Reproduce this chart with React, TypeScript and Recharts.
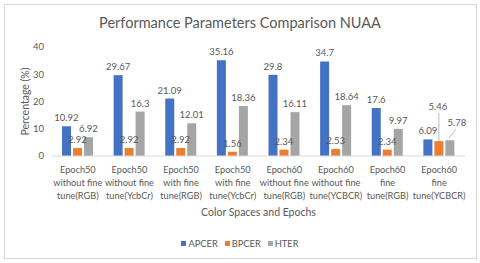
import { BarChart, Bar, XAxis, YAxis, Legend, LabelList } from "recharts"

const categories = [
  "Epoch50\nwithout fine\ntune(RGB)",
  "Epoch50\nwithout fine\ntune(YcbCr)",
  "Epoch50\nwith fine\ntune(RGB)",
  "Epoch50\nwith fine\ntune(YcbCr)",
  "Epoch60\nwithout fine\ntune(RGB)",
  "Epoch60\nwithout fine\ntune(YCBCR)",
  "Epoch60\nfine\ntune(RGB)",
  "Epoch60\nfine\ntune(YCBCR)",
]
const apcer = [10.92, 29.67, 21.09, 35.16, 29.8, 34.7, 17.6, 6.09]
const bpcer = [2.92, 2.92, 2.92, 1.56, 2.34, 2.53, 2.34, 5.46]
const hter = [6.92, 16.3, 12.01, 18.36, 16.11, 18.64, 9.97, 5.78]
const yTicks = [0, 5, 10, 15, 20, 25, 30, 35, 40]

const SERIES = [
  { key: "APCER", color: "#4472C4" },
  { key: "BPCER", color: "#ED7D31" },
  { key: "HTER", color: "#A5A5A5" },
]

const TEXT = "#595959"
const FONT = "Lato, 'Open Sans', sans-serif"

const data = categories.map((name, i) => ({
  name,
  APCER: apcer[i],
  BPCER: bpcer[i],
  HTER: hter[i],
}))

function CategoryTick({ x, y, payload }: any) {
  const lines = String(payload.value).split("\n")
  return (
    <text x={x} y={y} textAnchor="middle" fill={TEXT} fontSize={9.2} fontFamily={FONT}>
      {lines.map((l, i) => (
        <tspan key={i} x={x} dy={i === 0 ? 9 : 13}>
          {l}
        </tspan>
      ))}
    </text>
  )
}

// last category labels were dragged out in the original, with leader lines
function makeLabel(series: string) {
  return (props: any) => {
    const { x, y, width, value, index } = props
    const cx = x + width / 2
    if (index === data.length - 1 && series === "BPCER") {
      return (
        <g>
          <line x1={cx} y1={y - 28} x2={cx} y2={y} stroke="#A6A6A6" strokeWidth={0.8} />
          <text x={cx - 1} y={y - 31} textAnchor="middle" fill={TEXT} fontSize={9.5} fontFamily={FONT}>
            {value}
          </text>
        </g>
      )
    }
    if (index === data.length - 1 && series === "HTER") {
      return (
        <g>
          <line x1={cx + 6} y1={y - 11} x2={cx - 1} y2={y - 2} stroke="#A6A6A6" strokeWidth={0.8} />
          <text x={cx + 7} y={y - 14} textAnchor="middle" fill={TEXT} fontSize={9.5} fontFamily={FONT}>
            {value}
          </text>
        </g>
      )
    }
    return (
      <text x={cx} y={y - 5} textAnchor="middle" fill={TEXT} fontSize={9.5} fontFamily={FONT}>
        {value}
      </text>
    )
  }
}

function LegendContent() {
  return (
    <div
      style={{
        height: 30,
        display: "flex",
        justifyContent: "center",
        gap: 7,
        fontFamily: FONT,
        fontSize: 9.3,
        color: TEXT,
        paddingTop: 4,
        boxSizing: "border-box",
      }}
    >
      {SERIES.map((s) => (
        <span key={s.key} style={{ display: "flex", alignItems: "center", height: 12 }}>
          <span style={{ width: 5, height: 5, background: s.color, marginRight: 2 }} />
          {s.key}
        </span>
      ))}
    </div>
  )
}

export default function App() {
  return (
    <div style={{ position: "absolute", left: 0, top: 0, width: 480, height: 263, background: "#fff" }}>
      <div
        style={{
          position: "absolute",
          left: 4,
          top: 4,
          width: 471,
          height: 253,
          border: "1px solid #D9D9D9",
        }}
      />
      <div
        style={{
          position: "absolute",
          left: 0,
          top: 14,
          width: 480,
          textAlign: "center",
          fontFamily: FONT,
          fontSize: 14.5,
          color: TEXT,
        }}
      >
        Performance Parameters Comparison NUAA
      </div>
      <BarChart
        width={480}
        height={263}
        data={data}
        margin={{ top: 47, right: 15, left: 0, bottom: 0 }}
        barSize={9}
        barGap={2}
      >
        <XAxis
          dataKey="name"
          interval={0}
          tick={<CategoryTick />}
          tickLine={false}
          axisLine={{ stroke: "#D9D9D9" }}
          height={77}
          label={(props: any) => {
            const vb = props.viewBox
            return (
              <text
                x={vb.x + vb.width / 2}
                y={216}
                textAnchor="middle"
                fill={TEXT}
                fontSize={10.5}
                fontFamily={FONT}
              >
                Color Spaces and Epochs
              </text>
            )
          }}
        />
        <YAxis
          width={52}
          domain={[0, 40]}
          ticks={yTicks}
          tickLine={false}
          axisLine={false}
          tick={{ fill: TEXT, fontSize: 9.5, fontFamily: FONT }}
          label={(props: any) => {
            const vb = props.viewBox
            const cy = vb.y + vb.height / 2
            return (
              <text
                x={25}
                y={cy}
                transform={`rotate(-90 25 ${cy})`}
                textAnchor="middle"
                dominantBaseline="central"
                fill={TEXT}
                fontSize={10.5}
                fontFamily={FONT}
              >
                Percentage (%)
              </text>
            )
          }}
        />
        <Legend
          verticalAlign="bottom"
          content={<LegendContent />}
          wrapperStyle={{ left: 0, width: 480 }}
        />
        {SERIES.map((s) => (
          <Bar key={s.key} dataKey={s.key} fill={s.color} isAnimationActive={false}>
            <LabelList dataKey={s.key} content={makeLabel(s.key)} />
          </Bar>
        ))}
      </BarChart>
    </div>
  )
}
